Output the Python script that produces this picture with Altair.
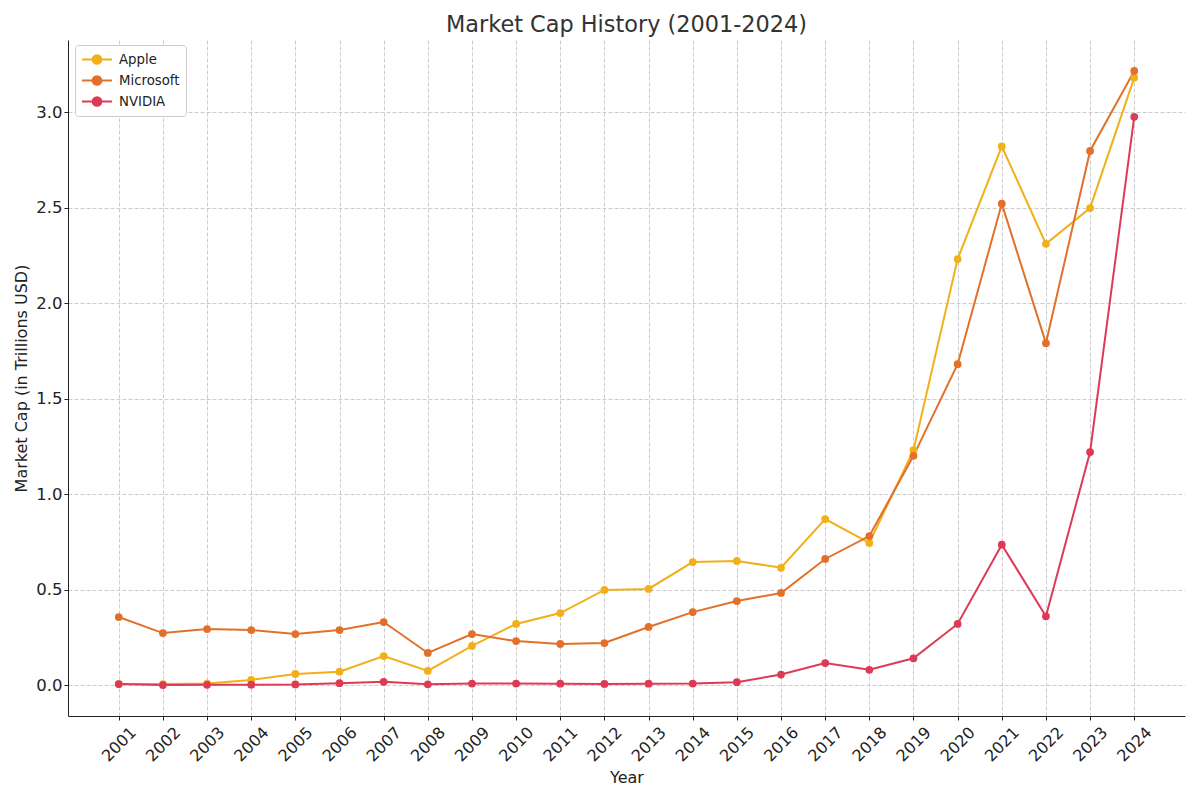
import altair as alt
import pandas as pd

years = list(range(2001, 2025))
apple = [0.005, 0.005, 0.008, 0.027, 0.058, 0.070, 0.152, 0.074, 0.205, 0.320,
         0.377, 0.498, 0.503, 0.644, 0.650, 0.614, 0.869, 0.744, 1.230, 2.230,
         2.820, 2.310, 2.497, 3.180]
microsoft = [0.356, 0.272, 0.293, 0.288, 0.267, 0.288, 0.330, 0.168, 0.267, 0.230,
             0.215, 0.220, 0.304, 0.382, 0.440, 0.482, 0.660, 0.780, 1.200, 1.680,
             2.520, 1.790, 2.796, 3.215]
nvidia = [0.005, 0.000, 0.001, 0.002, 0.003, 0.010, 0.017, 0.004, 0.008, 0.008,
          0.007, 0.006, 0.007, 0.008, 0.015, 0.055, 0.115, 0.080, 0.140, 0.320,
          0.735, 0.360, 1.220, 2.975]
companies = ["Apple", "Microsoft", "NVIDIA"]
colors = ["#F1B01A", "#E2702A", "#DD3A55"]
y_ticks = [0.0, 0.5, 1.0, 1.5, 2.0, 2.5, 3.0]

rows = []
for name, vals in zip(companies, [apple, microsoft, nvidia]):
    for yr, v in zip(years, vals):
        rows.append({"Year": yr, "Company": name, "Value": v})
df = pd.DataFrame(rows)

# legend glyph: a short line with a dot in its middle
legend_symbol = ("M-1,0H3M1.58,0A0.58,0.58 0 1,1 0.42,0A0.58,0.58 0 1,1 1.58,0Z")

color = alt.Color(
    "Company:N",
    scale=alt.Scale(domain=companies, range=colors),
    legend=alt.Legend(
        title=None, orient="none", legendX=7, legendY=5,
        symbolType=legend_symbol, symbolSize=225, symbolStrokeWidth=2,
        labelFontSize=13.3, labelColor="#222", rowPadding=4,
        padding=6, strokeColor="#cccccc", fillColor="white",
        cornerRadius=3, labelOffset=21,
    ),
)

x = alt.X("Year:Q",
          scale=alt.Scale(domain=[1999.85, 2025.15], nice=False, zero=False),
          axis=alt.Axis(values=years, format="d", title="Year",
                        labelAngle=-45, labelAlign="center", labelBaseline="middle",
                        labelPadding=24, labelFontSize=16, titleFontSize=16,
                        titleFontWeight="normal", titleColor="#222", labelColor="#222",
                        tickSize=4, tickColor="#222", domainColor="#222",
                        gridColor="#cccccc", gridDash=[4, 2], titlePadding=5))
y = alt.Y("Value:Q",
          scale=alt.Scale(domain=[-0.162, 3.377], nice=False, zero=False),
          axis=alt.Axis(values=y_ticks, format=".1f",
                        title="Market Cap (in Trillions USD)",
                        labelFontSize=16.5, titleFontSize=16, titleFontWeight="normal",
                        titleColor="#222", labelColor="#222",
                        tickSize=4, tickColor="#222", domainColor="#222",
                        gridColor="#cccccc", gridDash=[4, 2], labelPadding=2,
                        titlePadding=6))

base = alt.Chart(df).encode(x=x, y=y, color=color)
lines = base.mark_line(strokeWidth=2)
points = base.mark_circle(size=60, opacity=1)

chart = alt.layer(lines, points).properties(
    width=1117, height=676,
    title=alt.TitleParams("Market Cap History (2001-2024)", fontSize=22.4,
                          fontWeight="normal", color="#333", offset=4),
    autosize=alt.AutoSizeParams(type="none"),
    padding={"left": 60, "top": 32, "right": 7, "bottom": 76},
).configure(font="DejaVu Sans").configure_view(stroke=None)

chart.save("out.html", embed_options={"renderer": "svg", "actions": False})
